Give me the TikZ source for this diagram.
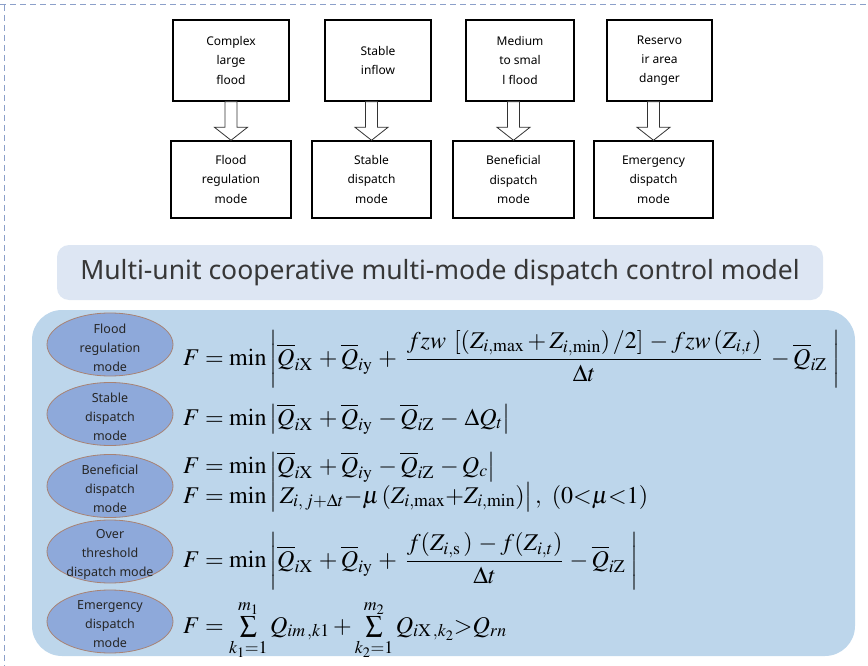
\documentclass[tikz,border=0pt]{standalone}
\usepackage{amsmath}
\usepackage{mathptmx}
\usepackage{fontspec}
\newfontfamily\labelfont{Noto Sans}
\usetikzlibrary{shapes.geometric,calc}

\definecolor{panelblue}{RGB}{189,214,235}
\definecolor{titleblue}{RGB}{221,230,243}
\definecolor{ovalblue}{RGB}{142,169,218}
\definecolor{ovalrim}{RGB}{168,130,115}
\definecolor{frameblue}{RGB}{140,160,202}
\definecolor{titlegray}{RGB}{55,55,55}

\begin{document}
\begin{tikzpicture}[x=1pt,y=-1pt,
    casebox/.style={draw,line width=1.4pt,inner sep=0pt,align=center,font=\labelfont\fontsize{12}{19.3}\selectfont},
    blockarrow/.style={draw=black!80,fill=white,line width=0.8pt,to path={
        let \p1=(\tikztostart), \p2=(\tikztotarget) in
        (\x1-6pt,\y1) -- (\x1-6pt,\y2+13pt) -- (\x1-16.5pt,\y2+13pt) -- (\x2,\y2)
        -- (\x1+16.5pt,\y2+13pt) -- (\x1+6pt,\y2+13pt) -- (\x1+6pt,\y1) -- cycle}},
    mode/.style={ellipse,draw=ovalrim,fill=ovalblue,line width=0.8pt,minimum width=126pt,minimum height=63pt,inner sep=0pt},
    modetext/.style={align=center,text=black!85,font=\labelfont\fontsize{12.5}{19}\selectfont},
    formula/.style={anchor=base west,inner sep=0pt,font=\fontsize{24}{28}\selectfont}]
    \useasboundingbox (0,0) rectangle (868,666);

    % frame
    \draw[frameblue,line width=1pt,dash pattern=on 6pt off 4pt] (0,5) -- (868,5);
    \draw[frameblue,line width=1pt,dash pattern=on 6pt off 4pt] (4,5) -- (4,666);

    % situations and modes
    \node[casebox,minimum width=116pt,minimum height=81pt] (c1) at (231,60.5) {Complex\\large\\flood};
    \node[casebox,minimum width=106pt,minimum height=81pt] (c2) at (378,60.5) {Stable\\inflow};
    \node[casebox,minimum width=108pt,minimum height=81pt] (c3) at (520,60.5) {Medium\\to smal\\l flood};
    \node[casebox,minimum width=105pt,minimum height=81pt] (c4) at (659.5,60.5) {Reservo\\ir area\\danger};

    \node[casebox,minimum width=120pt,minimum height=77pt] (d1) at (231,179.5) {Flood\\regulation\\mode};
    \node[casebox,minimum width=119pt,minimum height=77pt] (d2) at (371.5,179.5) {Stable\\dispatch\\mode};
    \node[casebox,minimum width=121pt,minimum height=77pt] (d3) at (513.5,179.5) {Beneficial\\dispatch\\mode};
    \node[casebox,minimum width=119pt,minimum height=77pt] (d4) at (653.5,179.5) {Emergency\\dispatch\\mode};

    \draw[blockarrow] (c1.south -| d1.north) to (d1.north);
    \draw[blockarrow] (c2.south -| d2.north) to (d2.north);
    \draw[blockarrow] (c3.south -| d3.north) to (d3.north);
    \draw[blockarrow] (c4.south -| d4.north) to (d4.north);

    % model title
    \node[fill=titleblue,rounded corners=12pt,minimum width=766pt,minimum height=55pt,inner sep=0pt,
          text=titlegray,font=\labelfont\fontsize{26.5}{30}\selectfont] (title) at (440,272.5)
          {Multi-unit cooperative multi-mode dispatch control model};

    % model panel
    \node[fill=panelblue,rounded corners=30pt,minimum width=823pt,minimum height=346pt,inner sep=0pt] (panel) at (443.5,483) {};

    \node[mode] (m1) at (110,344.5) {};
    \node[mode] (m2) at (110,414) {};
    \node[mode] (m3) at (110,486) {};
    \node[mode] (m4) at (110,551.5) {};
    \node[mode] (m5) at (110,621.5) {};
    \node[modetext] at ([yshift=-3pt]m1) {Flood\\regulation\\mode};
    \node[modetext] at ([yshift=-3pt]m2) {Stable\\dispatch\\mode};
    \node[modetext] at ([yshift=-3pt]m3) {Beneficial\\dispatch\\mode};
    \node[modetext] at ([yshift=-3pt]m4) {Over\\threshold\\dispatch mode};
    \node[modetext] at ([yshift=-3pt]m5) {Emergency\\dispatch\\mode};

    \node[formula] (eq1) at (183,365) {$F=\min\left|\overline{Q}_{i\mathrm{X}}\,+\overline{Q}_{i\mathrm{y}}\,+\;\dfrac{fzw\;\left[(Z_{i,\max}+Z_{i,\min})\,/2\right]\,-fzw\,(Z_{i,t})}{\Delta t}\;-\overline{Q}_{i\mathrm{Z}}\;\right|$};
    \node[formula] (eq2) at (183,425) {$F=\min\left|\overline{Q}_{i\mathrm{X}}\,+\overline{Q}_{i\mathrm{y}}\,-\overline{Q}_{i\mathrm{Z}}\,-\,\Delta Q_t\right|$};
    \node[formula] (eq3) at (183,473) {$F=\min\left|\overline{Q}_{i\mathrm{X}}\,+\overline{Q}_{i\mathrm{y}}\,-\overline{Q}_{i\mathrm{Z}}\,-Q_c\right|$};
    \node[formula] (eq4) at (183,503) {$F=\min\left|\,Z_{i,\,j+\Delta t}{-}\mu\,(Z_{i,\max}{+}Z_{i,\min})\right|,\ (0{<}\mu{<}1)$};
    \node[formula] (eq5) at (183,567) {$F=\min\left|\overline{Q}_{i\mathrm{X}}\,+\overline{Q}_{i\mathrm{y}}\,+\;\dfrac{f(Z_{i,\mathrm{s}}\,)\,-f(Z_{i,t})}{\Delta t}\,-\overline{Q}_{i\mathrm{Z}}\;\right|$};
    \node[formula] (eq6) at (183,633) {$F=\sum\limits_{k_1=1}^{m_1}Q_{im\,,k1}+\sum\limits_{k_2=1}^{m_2}Q_{i\mathrm{X}\,,k_2}{>}Q_{rn}$};
\end{tikzpicture}
\end{document}
